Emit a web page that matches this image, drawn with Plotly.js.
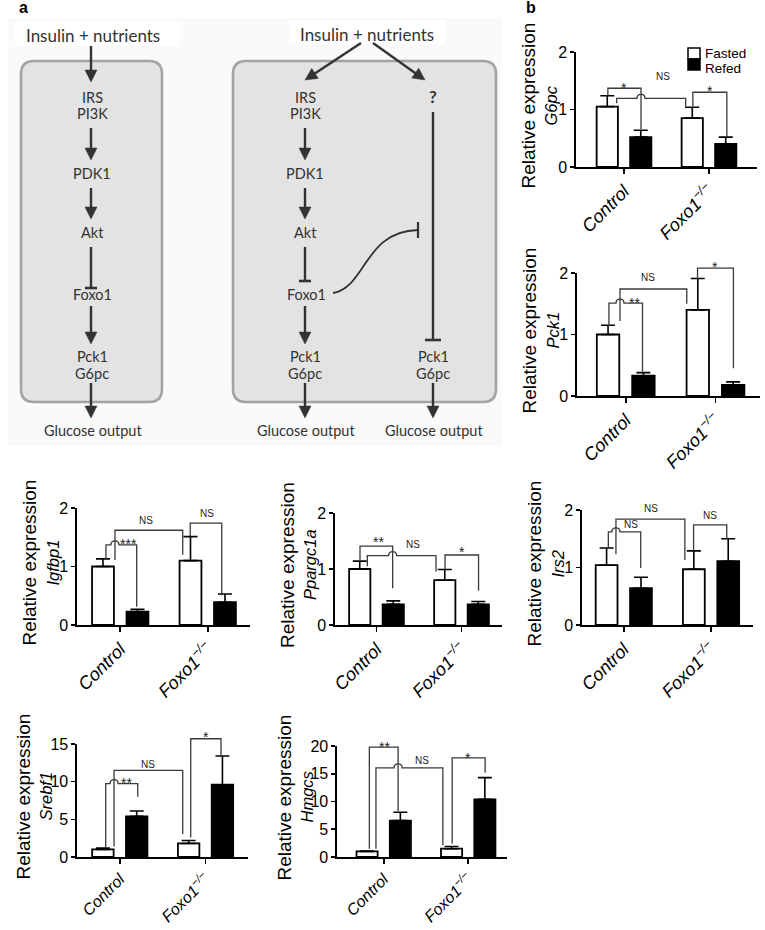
<!DOCTYPE html>
<html><head><meta charset="utf-8">
<script src="https://cdn.plot.ly/plotly-3.0.1.min.js"></script>
<style>html,body{margin:0;padding:0;background:#fff}</style>
</head><body><div id="chart" style="width:765px;height:930px"></div>
<script>
const W = 765, H = 930;

// ---------- data ----------
const categories = ['Control', 'Foxo1'];
const genes = ['G6pc', 'Pck1', 'Igfbp1', 'Ppargc1a', 'Irs2', 'Srebf1', 'Hmgcs'];
const fastedMean = [[1.05, 0.85], [1.00, 1.40], [1.00, 1.10], [1.00, 0.80], [1.04, 0.97], [1.0, 1.8], [1.0, 1.5]];
const fastedSEM  = [[0.19, 0.19], [0.15, 0.51], [0.13, 0.41], [0.14, 0.19], [0.30, 0.32], [0.2, 0.4], [0.05, 0.4]];
const refedMean  = [[0.52, 0.40], [0.33, 0.18], [0.23, 0.39], [0.37, 0.37], [0.64, 1.11], [5.4, 9.6], [6.55, 10.4]];
const refedSEM   = [[0.12, 0.12], [0.05, 0.05], [0.04, 0.14], [0.06, 0.05], [0.19, 0.39], [0.7, 3.8], [1.5, 3.9]];
const yMax = [2, 2, 2, 2, 2, 15, 20];
const yDtick = [1, 1, 1, 1, 1, 5, 5];
const legendLabels = ['Fasted', 'Refed'];
// significance brackets: [uLeft, vLeftBottom, uRight, vRightBottom, vTop, label, labelU, labelV, humpU]
const brackets = [
  [[-0.19, 1.24, 0.20, 0.655, 1.37, '*', 0.0, 1.45, null],
   [-0.086, 1.11, 0.726, 1.02, 1.195, 'NS', 0.46, 1.58, 0.20],
   [0.81, 1.05, 1.21, 0.527, 1.30, '*', 1.01, 1.39, null]],
  [[-0.187, 1.14, 0.187, 0.40, 1.51, '**', 0.10, 1.57, -0.064],
   [-0.064, 1.22, 0.68, 1.50, 1.74, 'NS', 0.25, 1.93, null],
   [0.80, 1.90, 1.20, 0.45, 2.08, '*', 1.0, 2.17, null]],
  [[-0.163, 1.13, 0.188, 0.31, 1.37, '***', 0.09, 1.45, -0.06],
   [-0.06, 1.11, 0.714, 1.20, 1.62, 'NS', 0.30, 1.79, null],
   [0.80, 1.51, 1.16, 0.51, 1.74, 'NS', 0.99, 1.91, null]],
  [[-0.194, 1.14, 0.19, 0.655, 1.41, '**', 0.02, 1.55, null],
   [-0.108, 1.05, 0.70, 0.95, 1.24, 'NS', 0.43, 1.43, 0.19],
   [0.806, 0.99, 1.20, 0.61, 1.25, '*', 1.0, 1.38, null]],
  [[-0.177, 1.34, 0.194, 0.99, 1.62, 'NS', 0.08, 1.74, -0.09],
   [-0.09, 1.23, 0.70, 1.13, 1.84, 'NS', 0.31, 2.02, null],
   [0.80, 1.29, 1.18, 1.50, 1.74, 'NS', 0.99, 1.91, null]],
  [[-0.164, 1.2, 0.209, 8.0, 9.74, '**', 0.08, 10.4, -0.067],
   [-0.067, 1.4, 0.734, 3.07, 11.5, 'NS', 0.33, 12.3, null],
   [0.827, 2.6, 1.18, 13.4, 15.7, '*', 1.01, 16.5, null]],
  [[-0.17, 1.5, 0.17, 8.3, 19.8, '**', 0.01, 20.5, null],
   [-0.092, 1.5, 0.70, 2.1, 16.07, 'NS', 0.45, 17.3, 0.17],
   [0.81, 2.4, 1.20, 15.2, 17.86, '*', 1.0, 18.6, null]]
];

// ---------- layout geometry (pixels) ----------
const panels = [
  {xl: 576, xr: 757, yt: 52,  yb: 167, r0: -0.565, r1: 1.565, t1: 48, t2: 25, fx: 18},
  {xl: 577, xr: 760, yt: 273, yb: 396, r0: -0.543, r1: 1.496, t1: 48, t2: 25, fx: 18},
  {xl: 77,  xr: 250, yt: 508, yb: 625, r0: -0.494, r1: 1.483, t1: 48, t2: 25, fx: 18},
  {xl: 335, xr: 502, yt: 513, yb: 625, r0: -0.488, r1: 1.476, t1: 48, t2: 25, fx: 18},
  {xl: 582, xr: 753, yt: 510, yb: 625, r0: -0.479, r1: 1.481, t1: 48, t2: 25, fx: 18},
  {xl: 77,  xr: 248, yt: 744, yb: 857, r0: -0.499, r1: 1.495, t1: 54, t2: 32, fx: 16},
  {xl: 337, xr: 507, yt: 746, yb: 857, r0: -0.553, r1: 1.459, t1: 53, t2: 31, fx: 16}
];
const AX_FONT = 'Liberation Sans, Arial, sans-serif';
const DG_FONT = 'Lato, Open Sans, sans-serif';
const DG_COL = '#333333';

const px2p = (x, y) => [x / W, 1 - y / H];
function seg(list) { // list of [cmd, x, y, x, y ...] in pixels -> paper path
  return list.map(s => {
    const c = s[0]; let out = c;
    for (let k = 1; k < s.length; k += 2) {
      const p = px2p(s[k], s[k + 1]);
      out += (k > 1 ? ' ' : '') + p[0].toFixed(5) + ',' + p[1].toFixed(5);
    }
    return out;
  }).join(' ');
}
function toPx(ci, u, v) {
  const P = panels[ci];
  return [P.xl + (u - P.r0) / (P.r1 - P.r0) * (P.xr - P.xl),
          P.yb - v / yMax[ci] * (P.yb - P.yt)];
}

const data = [];
const layout = {
  width: W, height: H, margin: {l: 0, r: 0, t: 0, b: 0, pad: 0},
  paper_bgcolor: '#ffffff', plot_bgcolor: 'rgba(0,0,0,0)',
  showlegend: false, barmode: 'overlay',
  font: {family: AX_FONT, color: '#000'},
  shapes: [], annotations: []
};
const shapes = layout.shapes, ann = layout.annotations;

function textAt(t, x, y, opts) {
  const p = px2p(x, y);
  ann.push(Object.assign({xref: 'paper', yref: 'paper', x: p[0], y: p[1], xanchor: 'center', yanchor: 'middle',
    showarrow: false, text: t}, opts));
}

genes.forEach((g, i) => {
  const xa = i === 0 ? 'x' : 'x' + (i + 1);
  const ya = i === 0 ? 'y' : 'y' + (i + 1);
  const P = panels[i];
  const common = {type: 'bar', x: [0, 1], width: 0.25, xaxis: xa, yaxis: ya, hoverinfo: 'skip'};
  data.push(Object.assign({}, common, {
    name: legendLabels[0], y: fastedMean[i], offset: -0.322,
    marker: {color: '#ffffff', line: {color: '#000', width: 1.8}},
    error_y: {type: 'data', symmetric: false, array: fastedSEM[i], arrayminus: [0, 0], color: '#000', thickness: 1.6, width: 7}
  }));
  data.push(Object.assign({}, common, {
    name: legendLabels[1], y: refedMean[i], offset: 0.072,
    marker: {color: '#000000', line: {color: '#000', width: 1.8}},
    error_y: {type: 'data', symmetric: false, array: refedSEM[i], arrayminus: [0, 0], color: '#000', thickness: 1.6, width: 7}
  }));
  layout[i === 0 ? 'xaxis' : 'xaxis' + (i + 1)] = {
    domain: [P.xl / W, P.xr / W], range: [P.r0, P.r1], anchor: ya,
    showline: true, linecolor: '#000', linewidth: 1.6, ticks: 'outside', ticklen: 5, tickwidth: 1.6, tickcolor: '#000',
    tickvals: [0, 1], ticktext: ['<i>' + categories[0] + '</i>', '<i>' + categories[1] + '<sup>−/−</sup></i>'],
    tickangle: -45, tickfont: {size: P.fx, family: AX_FONT, color: '#000'},
    showgrid: false, zeroline: false, fixedrange: true
  };
  layout[i === 0 ? 'yaxis' : 'yaxis' + (i + 1)] = {
    domain: [1 - P.yb / H, 1 - P.yt / H], range: [0, yMax[i]], anchor: xa,
    showline: true, linecolor: '#000', linewidth: 1.6, ticks: 'outside', ticklen: 4, tickwidth: 1.6, tickcolor: '#000',
    dtick: yDtick[i], tick0: 0, tickfont: {size: 16, family: AX_FONT, color: '#000'},
    showgrid: false, zeroline: false, fixedrange: true
  };
  // y-axis title (two lines)
  const yc = (P.yt + P.yb) / 2 - 4;
  textAt('Relative expression', P.xl - P.t1, yc, {textangle: -90, font: {size: 19, family: AX_FONT, color: '#000'}});
  textAt('<i>' + g + '</i>', P.xl - P.t2, yc, {textangle: -90, font: {size: 16.5, family: AX_FONT, color: '#000'}});
  // brackets
  brackets[i].forEach(b => {
    const [uL, vL, uR, vR, vT, lab, lu, lv, hu] = b;
    const L0 = toPx(i, uL, vL), T = toPx(i, uL, vT), R0 = toPx(i, uR, vR), TR = toPx(i, uR, vT);
    const yT = T[1];
    let path;
    if (hu !== null) {
      const hx = toPx(i, hu, vT)[0], r = 4, k = r * 1.33;
      path = seg([['M', L0[0], L0[1]], ['L', T[0], yT], ['L', hx - r, yT],
        ['C', hx - r, yT - k, hx + r, yT - k, hx + r, yT], ['L', TR[0], yT], ['L', R0[0], R0[1]]]);
    } else {
      path = seg([['M', L0[0], L0[1]], ['L', T[0], yT], ['L', TR[0], yT], ['L', R0[0], R0[1]]]);
    }
    shapes.push({type: 'path', xref: 'paper', yref: 'paper', path: path, line: {color: '#3a3a3a', width: 1.3}});
    const lp = toPx(i, lu, lv);
    textAt(lab, lp[0], lp[1] + (lab === 'NS' ? 0 : 4), {font: {size: lab === 'NS' ? 10 : 14, family: AX_FONT, color: '#222'}});
  });
});

// custom legend
[[48, 59, '#ffffff'], [59, 70, '#000000']].forEach((s, k) => {
  const a = px2p(688, s[0]), b = px2p(700, s[1]);
  shapes.push({type: 'rect', xref: 'paper', yref: 'paper', x0: a[0], x1: b[0], y0: b[1], y1: a[1],
    fillcolor: s[2], line: {color: '#000', width: 1.5}});
  textAt(legendLabels[k], 703, k === 0 ? 53 : 68, {xanchor: 'left', font: {size: 13.5, family: AX_FONT, color: '#000'}});
});

// panel labels
textAt('<b>a</b>', 23, 8, {font: {size: 16, family: AX_FONT, color: '#000'}});
textAt('<b>b</b>', 531, 8, {font: {size: 16, family: AX_FONT, color: '#000'}});

// ---------- diagram (panel a) ----------
function rrect(x0, y0, x1, y1, r) {
  return seg([['M', x0 + r, y0], ['L', x1 - r, y0], ['Q', x1, y0, x1, y0 + r], ['L', x1, y1 - r], ['Q', x1, y1, x1 - r, y1],
    ['L', x0 + r, y1], ['Q', x0, y1, x0, y1 - r], ['L', x0, y0 + r], ['Q', x0, y0, x0 + r, y0]]) + ' Z';
}
shapes.push({type: 'rect', xref: 'paper', yref: 'paper', x0: px2p(8, 0)[0], x1: px2p(502, 0)[0], y0: px2p(0, 446)[1], y1: px2p(0, 18)[1],
  fillcolor: '#fafafa', line: {width: 0}, layer: 'below'});
shapes.push({type: 'path', xref: 'paper', yref: 'paper', path: rrect(21, 61, 162, 402, 13), fillcolor: '#e3e3e3', line: {color: '#a3a3a3', width: 2.6}, layer: 'below'});
shapes.push({type: 'path', xref: 'paper', yref: 'paper', path: rrect(233, 61, 496, 402, 13), fillcolor: '#e3e3e3', line: {color: '#a3a3a3', width: 2.6}, layer: 'below'});

function arrow(x0, y0, x1, y1) {
  const dx = x1 - x0, dy = y1 - y0, L = Math.hypot(dx, dy), ux = dx / L, uy = dy / L;
  const hl = 12, hw = 6;
  const bx = x1 - ux * hl, by = y1 - uy * hl;
  shapes.push({type: 'path', xref: 'paper', yref: 'paper', path: seg([['M', x0, y0], ['L', bx + ux * 2, by + uy * 2]]), line: {color: DG_COL, width: 2.4}});
  shapes.push({type: 'path', xref: 'paper', yref: 'paper',
    path: seg([['M', x1, y1], ['L', bx - uy * hw, by + ux * hw], ['L', bx + uy * hw, by - ux * hw]]) + ' Z',
    fillcolor: DG_COL, line: {color: DG_COL, width: 0.5}});
}
function inhibit(x0, y0, x1, y1, bw) {
  shapes.push({type: 'path', xref: 'paper', yref: 'paper', path: seg([['M', x0, y0], ['L', x1, y1]]), line: {color: DG_COL, width: 2.4}});
  shapes.push({type: 'path', xref: 'paper', yref: 'paper', path: seg([['M', x1 - bw, y1], ['L', x1 + bw, y1]]), line: {color: DG_COL, width: 2.6}});
}
function label(t, x, y, size) {
  textAt(t, x, y, {font: {size: size || 14.5, family: DG_FONT, color: DG_COL}});
}
// left diagram
const insL = px2p(15, 22), insL2 = px2p(180, 46);
shapes.push({type: 'rect', xref: 'paper', yref: 'paper', x0: insL[0], x1: insL2[0], y0: insL2[1], y1: insL[1], fillcolor: '#ffffff', line: {width: 0}, layer: 'below'});
label('Insulin + nutrients', 93, 36, 17);
arrow(91, 46, 91, 82);
label('IRS', 92, 98); label('PI3K', 92, 114);
arrow(91, 128, 91, 160);
label('PDK1', 92, 173);
arrow(91, 188, 91, 219);
label('Akt', 92, 232);
inhibit(91, 247, 91, 288, 6);
label('Foxo1', 92, 295);
arrow(91, 306, 91, 344);
label('Pck1', 92, 357); label('G6pc', 92, 373);
arrow(91, 383, 91, 418);
label('Glucose output', 93, 430);
// right diagram
const insR = px2p(290, 20), insR2 = px2p(445, 44);
shapes.push({type: 'rect', xref: 'paper', yref: 'paper', x0: insR[0], x1: insR2[0], y0: insR2[1], y1: insR[1], fillcolor: '#ffffff', line: {width: 0}, layer: 'below'});
label('Insulin + nutrients', 367, 34, 17);
arrow(361, 43, 305, 80);
arrow(373, 43, 425, 80);
label('IRS', 305, 98); label('PI3K', 305, 114);
arrow(305, 128, 305, 160);
label('PDK1', 305, 173);
arrow(305, 188, 305, 219);
label('Akt', 305, 232);
inhibit(305, 247, 305, 281, 6);
label('Foxo1', 306, 295);
arrow(305, 306, 305, 344);
label('Pck1', 305, 357); label('G6pc', 305, 373);
arrow(305, 383, 305, 418);
label('Glucose output', 306, 430);
label('<b>?</b>', 433, 97, 17);
inhibit(433, 112, 433, 340, 8);
label('Pck1', 433, 357); label('G6pc', 433, 373);
arrow(433, 383, 433, 418);
label('Glucose output', 434, 430);
// Foxo1 -> inhibition curve
shapes.push({type: 'path', xref: 'paper', yref: 'paper', path: seg([['M', 333, 293], ['C', 366, 288, 364, 231, 418, 230]]), line: {color: DG_COL, width: 1.8}});
shapes.push({type: 'path', xref: 'paper', yref: 'paper', path: seg([['M', 418, 222], ['L', 418, 238]]), line: {color: DG_COL, width: 2.2}});

Plotly.newPlot('chart', data, layout, {staticPlot: true, displayModeBar: false});
</script></body></html>
